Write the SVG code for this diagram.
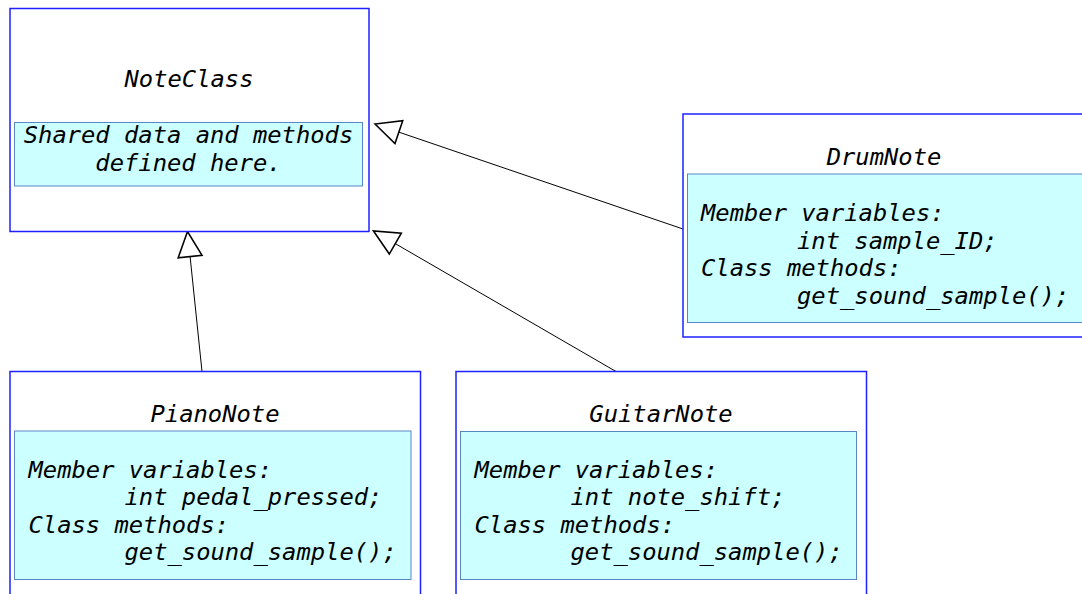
<svg xmlns="http://www.w3.org/2000/svg" width="1082" height="594" viewBox="0 0 1082 594">
<style>
.outer{fill:#ffffff;stroke:#2020ff;stroke-width:1.5}
.inner{fill:#ccffff;stroke:#5a86c8;stroke-width:1}
.t{font-family:"DejaVu Sans Mono",monospace;font-style:oblique;font-size:23.8px;fill:#000}
.c{text-anchor:middle}
.edge{stroke:#000;stroke-width:1;fill:none;marker-end:url(#tri)}
</style>
<defs>
<marker id="tri" markerUnits="userSpaceOnUse" markerWidth="30" markerHeight="30" viewBox="-23 -12 25 24" refX="0" refY="0" orient="auto">
<path d="M0,0 L-21,-10 L-21,10 Z" fill="#fff" stroke="#000" stroke-width="1.3"/>
</marker>
</defs>
<rect width="1082" height="594" fill="#fff"/>
<g id="connectors">
<line class="edge" x1="683" y1="229" x2="375" y2="124"/>
<line class="edge" x1="616" y1="371.5" x2="373.5" y2="231"/>
<line class="edge" x1="202" y1="371.5" x2="187.5" y2="231.5"/>
</g>
<g id="NoteClass">
<rect class="outer" x="10" y="8.5" width="359" height="223"/>
<rect class="inner" x="14.5" y="122.5" width="348" height="63.5"/>
<text class="t c" x="189" y="87">NoteClass</text>
<text class="t c" x="188.5" y="143">Shared data and methods</text>
<text class="t c" x="188.5" y="171">defined here.</text>
</g>
<g id="DrumNote">
<rect class="outer" x="683" y="114" width="402" height="223"/>
<rect class="inner" x="687.5" y="174" width="400" height="148.5"/>
<text class="t c" x="884" y="165">DrumNote</text>
<text class="t" x="701" y="221">Member variables:</text>
<text class="t" x="797" y="248.5">int sample_ID;</text>
<text class="t" x="701" y="276">Class methods:</text>
<text class="t" x="797" y="303.5">get_sound_sample();</text>
</g>
<g id="PianoNote">
<rect class="outer" x="10" y="371.5" width="410.5" height="240"/>
<rect class="inner" x="14.5" y="431" width="396.5" height="148.5"/>
<text class="t c" x="215" y="421.5">PianoNote</text>
<text class="t" x="28.5" y="477.5">Member variables:</text>
<text class="t" x="124.5" y="505">int pedal_pressed;</text>
<text class="t" x="28.5" y="532.5">Class methods:</text>
<text class="t" x="124.5" y="560">get_sound_sample();</text>
</g>
<g id="GuitarNote">
<rect class="outer" x="456" y="371.5" width="410.5" height="240"/>
<rect class="inner" x="460.5" y="431.5" width="396" height="148"/>
<text class="t c" x="661" y="421.5">GuitarNote</text>
<text class="t" x="474.5" y="477.5">Member variables:</text>
<text class="t" x="570.5" y="505">int note_shift;</text>
<text class="t" x="474.5" y="532.5">Class methods:</text>
<text class="t" x="570.5" y="560">get_sound_sample();</text>
</g>
</svg>
